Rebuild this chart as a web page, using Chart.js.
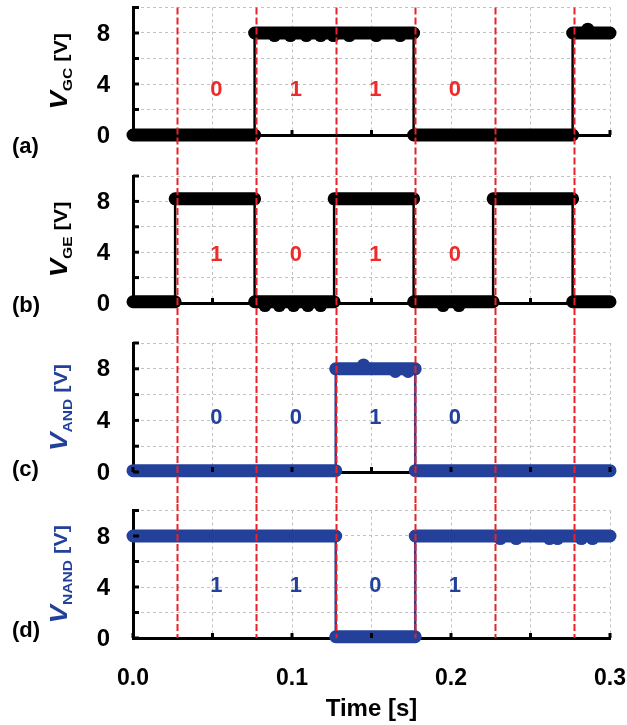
<!DOCTYPE html>
<html>
<head>
<meta charset="utf-8">
<script src="https://cdn.jsdelivr.net/npm/chart.js@4.4.1/dist/chart.umd.min.js"></script>
<style>
  body { margin: 0; background: #fff; }
  #wrap { position: relative; width: 627px; height: 725px; }
  #wrap canvas { position: absolute; left: 0; }
</style>
</head>
<body>
<div id="wrap">
  <canvas id="cA" width="627" height="168" style="top:0px"></canvas>
  <canvas id="cB" width="627" height="168" style="top:168px"></canvas>
  <canvas id="cC" width="627" height="168" style="top:336px"></canvas>
  <canvas id="cD" width="627" height="221" style="top:504px"></canvas>
</div>
<script>
// axis ticks
const X_TICK_LABELS = ['0.0', '0.1', '0.2', '0.3'];
const Y_TICK_LABELS = ['0', '4', '8'];
// clock edges (red dashed) and where the bit digits sit
const CLOCK_EDGES = [0.0275, 0.0775, 0.1275, 0.1775, 0.2275, 0.2775];
const BIT_TIMES = [0.0525, 0.1025, 0.1525, 0.2025];

// signals: switching times and the level held between them
const VGC_EDGES = [0, 0.0765, 0.1765, 0.2765, 0.3];
const VGC_LEVELS = [0, 8.0, 0, 8.0];
const VGC_BITS = ['0', '1', '1', '0'];
const VGC_BUMPS = [[0.089, 7.8], [0.099, 7.8], [0.109, 7.8], [0.118, 7.8], [0.126, 7.8], [0.136, 7.8], [0.153, 7.8], [0.168, 7.8], [0.286, 8.3]];

const VGE_EDGES = [0, 0.0265, 0.0765, 0.1265, 0.1765, 0.2265, 0.2765, 0.3];
const VGE_LEVELS = [0.1, 8.2, 0.1, 8.2, 0.1, 8.2, 0.1];
const VGE_BITS = ['1', '0', '1', '0'];
const VGE_BUMPS = [[0.083, -0.2], [0.092, -0.2], [0.101, -0.2], [0.110, -0.2], [0.118, -0.2], [0.195, -0.2], [0.205, -0.2]];

const VAND_EDGES = [0, 0.1275, 0.1775, 0.3];
const VAND_LEVELS = [0.1, 8.0, 0.1];
const VAND_BITS = ['0', '0', '1', '0'];
const VAND_BUMPS = [[0.145, 8.3], [0.165, 7.8], [0.173, 7.8]];

const VNAND_EDGES = [0, 0.1275, 0.1775, 0.3];
const VNAND_LEVELS = [8.0, 0.1, 8.0];
const VNAND_BITS = ['1', '1', '0', '1'];
const VNAND_BUMPS = [[0.231, 7.8], [0.241, 7.8], [0.262, 7.8], [0.267, 7.8], [0.282, 7.8], [0.289, 7.8]];

const BLACK = '#000000';
const BLUE = '#23409a';
const RED = '#ee2a2a';
const FONT = 'Arial, "Liberation Sans", sans-serif';

function stepLine(edges, levels) {
  const pts = [];
  levels.forEach((v, i) => {
    pts.push({ x: edges[i], y: v }, { x: edges[i + 1], y: v });
  });
  return pts;
}

function bands(edges, levels) {
  const pts = [];
  levels.forEach((v, i) => {
    pts.push({ x: edges[i], y: v }, { x: edges[i + 1], y: v }, { x: edges[i + 1], y: null });
  });
  return pts;
}

const decor = {
  id: 'decor',
  afterDatasetsDraw(chart, args, o) {
    const { ctx, chartArea: a, scales: { x, y } } = chart;
    ctx.save();
    // clock lines
    ctx.strokeStyle = '#e8222a';
    ctx.lineWidth = 2;
    ctx.setLineDash([7, 3]);
    CLOCK_EDGES.forEach((t) => {
      const px = Math.round(x.getPixelForValue(t)) + 0.5;
      ctx.beginPath();
      ctx.moveTo(px, o.lineFromArea ? a.top : 0);
      ctx.lineTo(px, o.lineToArea ? a.bottom : chart.height);
      ctx.stroke();
    });
    ctx.setLineDash([]);
    // bit digits
    ctx.fillStyle = o.bitColor;
    ctx.font = 'bold 22px ' + FONT;
    ctx.textAlign = 'center';
    ctx.textBaseline = 'middle';
    BIT_TIMES.forEach((t, i) => {
      ctx.fillText(o.bits[i], x.getPixelForValue(t), y.getPixelForValue(o.bitY));
    });
    ctx.restore();
  },
  afterDraw(chart, args, o) {
    const { ctx, chartArea: a, scales: { x, y } } = chart;
    ctx.save();
    // inward tick marks
    ctx.strokeStyle = BLACK;
    ctx.lineWidth = 3;
    y.ticks.forEach((tk) => {
      const py = y.getPixelForValue(tk.value);
      ctx.beginPath();
      ctx.moveTo(a.left, py);
      ctx.lineTo(a.left + 6, py);
      ctx.stroke();
    });
    x.ticks.forEach((tk) => {
      const px = x.getPixelForValue(tk.value);
      ctx.beginPath();
      ctx.moveTo(px, a.bottom);
      ctx.lineTo(px, a.bottom - 5);
      ctx.stroke();
    });
    // y tick labels
    ctx.fillStyle = BLACK;
    ctx.font = 'bold 24px ' + FONT;
    ctx.textAlign = 'right';
    ctx.textBaseline = 'middle';
    Y_TICK_LABELS.forEach((l) => {
      ctx.fillText(l, a.left - 23, y.getPixelForValue(Number(l)) + 1);
    });
    // panel letter
    ctx.textAlign = 'left';
    ctx.font = 'bold 22px ' + FONT;
    ctx.fillText(o.letter, 12, o.letterY);
    // rotated y title: V_sub [V]
    const stretch = 1.2;
    const fMain = 'italic bold 23px ' + FONT;
    const fSub = 'bold 13px ' + FONT;
    const fRest = 'bold 18px ' + FONT;
    ctx.font = fMain; const wV = ctx.measureText('V').width;
    ctx.font = fSub; const wS = ctx.measureText(o.sub).width;
    ctx.font = fRest; const wR = ctx.measureText(' [V]').width;
    const total = wV + wS + wR;
    ctx.translate(67, (a.top + a.bottom) / 2);
    ctx.rotate(-Math.PI / 2);
    ctx.scale(stretch, 1);
    ctx.fillStyle = o.titleColor;
    ctx.textBaseline = 'alphabetic';
    let cx = -total / 2;
    ctx.font = fMain; ctx.fillText('V', cx, 0); cx += wV;
    ctx.font = fSub; ctx.fillText(o.sub, cx, 5); cx += wS;
    ctx.font = fRest; ctx.fillText(' [V]', cx, 0);
    ctx.restore();
  }
};

function makePanel(p) {
  const xTicks = {
    display: p.showX,
    stepSize: 0.05,
    autoSkip: false,
    maxRotation: 0,
    padding: 27,
    color: BLACK,
    font: { family: FONT, size: 23, weight: 'bold' },
    callback: (v) => X_TICK_LABELS.find((l) => Math.abs(parseFloat(l) - v) < 1e-6) || ''
  };
  return new Chart(document.getElementById(p.id), {
    type: 'line',
    data: {
      datasets: [
        {
          data: p.bumps.map(([t, v]) => ({ x: t, y: v })),
          showLine: false,
          pointRadius: 6.5,
          pointBackgroundColor: p.color,
          pointBorderWidth: 0,
          clip: false
        },
        {
          data: bands(p.edges, p.levels),
          borderColor: p.color,
          borderWidth: 13,
          borderCapStyle: 'round',
          pointRadius: 0,
          spanGaps: false,
          clip: false
        },
        {
          data: stepLine(p.edges, p.levels),
          borderColor: p.color,
          borderWidth: 2.5,
          pointRadius: 0,
          clip: false
        }
      ]
    },
    options: {
      responsive: false,
      animation: false,
      events: [],
      layout: { padding: { left: 0, right: 17, top: p.padTop, bottom: 0 } },
      scales: {
        x: {
          type: 'linear',
          min: 0,
          max: 0.3,
          ticks: xTicks,
          grid: { color: '#c2c2c2', lineWidth: 1, drawTicks: false },
          border: { color: BLACK, width: 3, dash: [3, 3] },
          title: {
            display: p.showX,
            text: 'Time [s]',
            color: BLACK,
            font: { family: FONT, size: 24, weight: 'bold' },
            padding: { top: 0, bottom: 1 }
          },
          afterFit: (s) => {
            s.height = p.xHeight;
            s.paddingLeft = 0;
            s.paddingRight = 0;
          }
        },
        y: {
          min: 0,
          max: 10,
          ticks: { display: false, stepSize: 2 },
          grid: { color: '#c2c2c2', lineWidth: 1, drawTicks: false },
          border: { color: BLACK, width: 3, dash: [3, 3] },
          afterFit: (s) => {
            s.width = 133;
            s.paddingTop = 0;
            s.paddingBottom = 0;
          }
        }
      },
      plugins: {
        legend: { display: false },
        tooltip: { enabled: false },
        decor: {
          bits: p.bits,
          bitColor: p.bitColor,
          bitY: p.bitY,
          sub: p.sub,
          titleColor: p.titleColor,
          letter: p.letter,
          letterY: p.letterY,
          lineFromArea: p.lineFromArea,
          lineToArea: p.lineToArea
        }
      }
    },
    plugins: [decor]
  });
}

[
  { id: 'cA', edges: VGC_EDGES, levels: VGC_LEVELS, bumps: VGC_BUMPS, bits: VGC_BITS, color: BLACK, bitColor: RED, bitY: 3.5,
    sub: 'GC', titleColor: BLACK, letter: '(a)', letterY: 147, padTop: 7.5, xHeight: 33, showX: false, lineFromArea: true, lineToArea: false },
  { id: 'cB', edges: VGE_EDGES, levels: VGE_LEVELS, bumps: VGE_BUMPS, bits: VGE_BITS, color: BLACK, bitColor: RED, bitY: 3.8,
    sub: 'GE', titleColor: BLACK, letter: '(b)', letterY: 138, padTop: 8, xHeight: 33, showX: false, lineFromArea: false, lineToArea: false },
  { id: 'cC', edges: VAND_EDGES, levels: VAND_LEVELS, bumps: VAND_BUMPS, bits: VAND_BITS, color: BLUE, bitColor: BLUE, bitY: 4.2,
    sub: 'AND', titleColor: BLUE, letter: '(c)', letterY: 134, padTop: 7, xHeight: 32, showX: false, lineFromArea: false, lineToArea: false },
  { id: 'cD', edges: VNAND_EDGES, levels: VNAND_LEVELS, bumps: VNAND_BUMPS, bits: VNAND_BITS, color: BLUE, bitColor: BLUE, bitY: 4.1,
    sub: 'NAND', titleColor: BLUE, letter: '(d)', letterY: 127, padTop: 6, xHeight: 87, showX: true, lineFromArea: false, lineToArea: true }
].forEach(makePanel);
</script>
</body>
</html>
